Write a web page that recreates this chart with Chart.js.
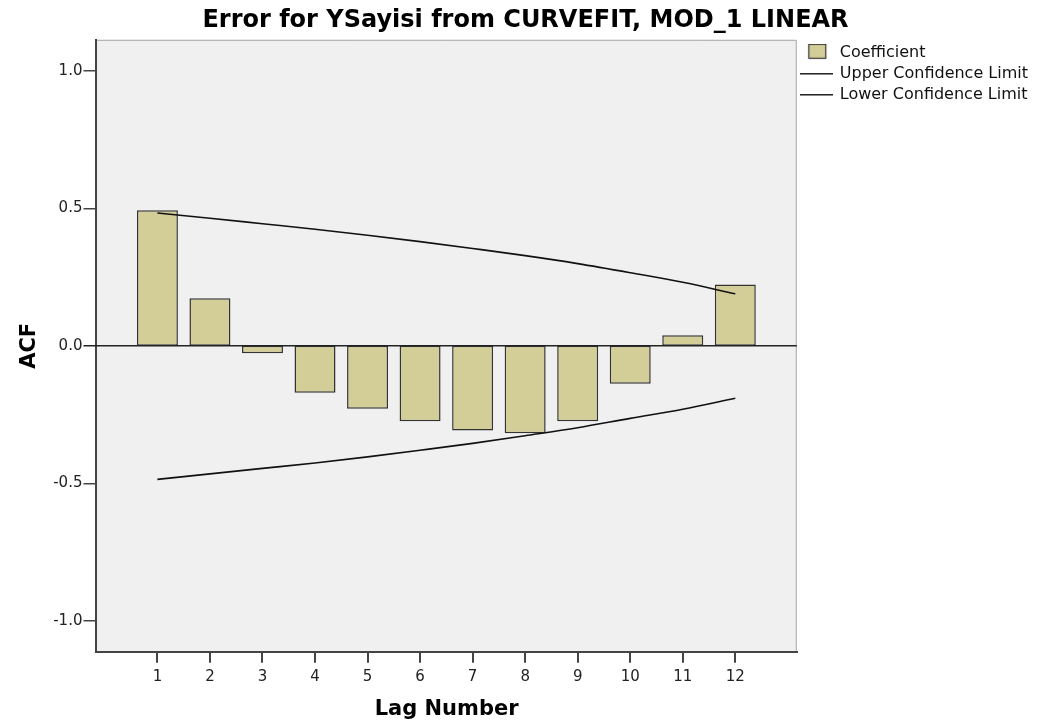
<!DOCTYPE html>
<html>
<head>
<meta charset="utf-8">
<script src="https://cdn.jsdelivr.net/npm/chart.js@4"></script>
<style>
  html, body { margin: 0; padding: 0; background: #fff; }
  #wrap { width: 1045px; height: 724px; }
</style>
</head>
<body>
<div id="wrap"><canvas id="acfChart"></canvas></div>
<script>
const lags = [1, 2, 3, 4, 5, 6, 7, 8, 9, 10, 11, 12];
const coefficients = [0.493, 0.173, -0.027, -0.171, -0.229, -0.274, -0.308, -0.318, -0.274, -0.138, 0.038, 0.223];
const upperLimit = [0.483, 0.464, 0.444, 0.424, 0.402, 0.379, 0.354, 0.328, 0.299, 0.266, 0.231, 0.189];
const lowerLimit = [-0.486, -0.466, -0.446, -0.426, -0.404, -0.380, -0.355, -0.327, -0.298, -0.264, -0.231, -0.191];
const yTicks = [-1.0, -0.5, 0.0, 0.5, 1.0];

const barColor = '#d3ce97';

// little pictures used as legend symbols
function swatch(kind) {
    const c = document.createElement('canvas');
    const g = c.getContext('2d');
    if (kind === 'box') {
        c.width = 33; c.height = 18;
        g.fillStyle = barColor;
        g.fillRect(8.5, 0.5, 17, 14);
        g.strokeStyle = '#333';
        g.lineWidth = 1.2;
        g.strokeRect(8.5, 0.5, 17, 14);
    } else {
        c.width = 33; c.height = 2;
        g.fillStyle = '#111';
        g.fillRect(0, 0, 33, 1.5);
    }
    return c;
}

const points = vals => lags.map((l, i) => ({x: l, y: vals[i]}));

const plotBackground = {
    id: 'plotBackground',
    beforeDraw(chart) {
        const {ctx, chartArea: a} = chart;
        ctx.save();
        ctx.fillStyle = '#fff';
        ctx.fillRect(0, 0, chart.width, chart.height);
        ctx.fillStyle = '#f0f0f0';
        ctx.fillRect(a.left, a.top, a.right - a.left, a.bottom - a.top);
        ctx.strokeStyle = '#a8a8a8';
        ctx.lineWidth = 1;
        ctx.beginPath();
        ctx.moveTo(a.left, a.top + 0.5);
        ctx.lineTo(a.right - 0.5, a.top + 0.5);
        ctx.lineTo(a.right - 0.5, a.bottom);
        ctx.stroke();
        ctx.restore();
    },
    // zero reference line, drawn over the bars
    afterDatasetsDraw(chart) {
        const {ctx, chartArea: a} = chart;
        const y0 = chart.scales.y.getPixelForValue(0);
        ctx.save();
        ctx.strokeStyle = '#222';
        ctx.lineWidth = 1.5;
        ctx.beginPath();
        ctx.moveTo(a.left - 13, y0);
        ctx.lineTo(a.right, y0);
        ctx.stroke();
        ctx.restore();
    }
};

const acfChart = new Chart(document.getElementById('acfChart').getContext('2d'), {
    type: 'bar',
    data: {
        datasets: [{
            label: 'Coefficient',
            data: points(coefficients),
            backgroundColor: barColor,
            borderColor: '#333',
            borderWidth: 1.5,
            borderSkipped: false,
            barPercentage: 0.78,
            categoryPercentage: 1,
            order: 2
        }, {
            type: 'line',
            label: 'Upper Confidence Limit',
            data: points(upperLimit),
            borderColor: '#111',
            borderWidth: 1.6,
            pointRadius: 0,
            cubicInterpolationMode: 'monotone',
            order: 1
        }, {
            type: 'line',
            label: 'Lower Confidence Limit',
            data: points(lowerLimit),
            borderColor: '#111',
            borderWidth: 1.6,
            pointRadius: 0,
            cubicInterpolationMode: 'monotone',
            order: 1
        }]
    },
    options: {
        responsive: true,
        maintainAspectRatio: false,
        animation: false,
        layout: { padding: { left: 13, right: 7, top: 0, bottom: 0 } },
        scales: {
            x: {
                type: 'linear',
                min: -0.16,
                max: 13.17,
                offset: false,
                afterBuildTicks: axis => { axis.ticks = lags.map(v => ({value: v})); },
                grid: { offset: false, drawOnChartArea: false, tickLength: 11, tickColor: '#444', lineWidth: 2 },
                border: { display: true, color: '#444', width: 2 },
                ticks: { font: { family: 'DejaVu Sans', size: 15 }, color: '#222', padding: 5, autoSkip: false, maxRotation: 0 },
                title: {
                    display: true, text: 'Lag Number', color: '#000',
                    font: { family: 'DejaVu Sans', size: 21, weight: 'bold' },
                    padding: { top: 6, bottom: 2 }
                }
            },
            y: {
                min: -1.113,
                max: 1.113,
                afterBuildTicks: axis => { axis.ticks = yTicks.map(v => ({value: v})); },
                grid: {
                    drawOnChartArea: false,
                    tickColor: '#444', tickLength: 13,
                    lineWidth: c => (c.tick && c.tick.value === 0) ? 0 : 1.5
                },
                border: { display: true, color: '#444', width: 2 },
                ticks: {
                    font: { family: 'DejaVu Sans', size: 15 }, color: '#222', padding: 1,
                    callback: v => v.toFixed(1)
                },
                title: {
                    display: true, text: 'ACF', color: '#000',
                    font: { family: 'DejaVu Sans', size: 21, weight: 'bold' },
                    padding: { top: 4, bottom: 10 }
                }
            }
        },
        plugins: {
            title: {
                display: true,
                text: 'Error for YSayisi from CURVEFIT, MOD_1 LINEAR',
                color: '#000',
                font: { family: 'DejaVu Sans', size: 24, weight: 'bold' },
                padding: { top: 6, bottom: 5 }
            },
            legend: {
                position: 'right',
                align: 'start',
                fullSize: false,
                labels: {
                    usePointStyle: true,
                    pointStyleWidth: 30,
                    padding: 5,
                    color: '#111',
                    font: { family: 'DejaVu Sans', size: 16 },
                    generateLabels: chart => chart.data.datasets.map((ds, i) => ({
                        text: ds.label,
                        pointStyle: swatch(i === 0 ? 'box' : 'line'),
                        fillStyle: 'transparent',
                        strokeStyle: 'transparent',
                        lineWidth: 0,
                        fontColor: '#111',
                        datasetIndex: i
                    }))
                }
            },
            tooltip: { enabled: false }
        }
    },
    plugins: [plotBackground]
});
</script>
</body>
</html>
